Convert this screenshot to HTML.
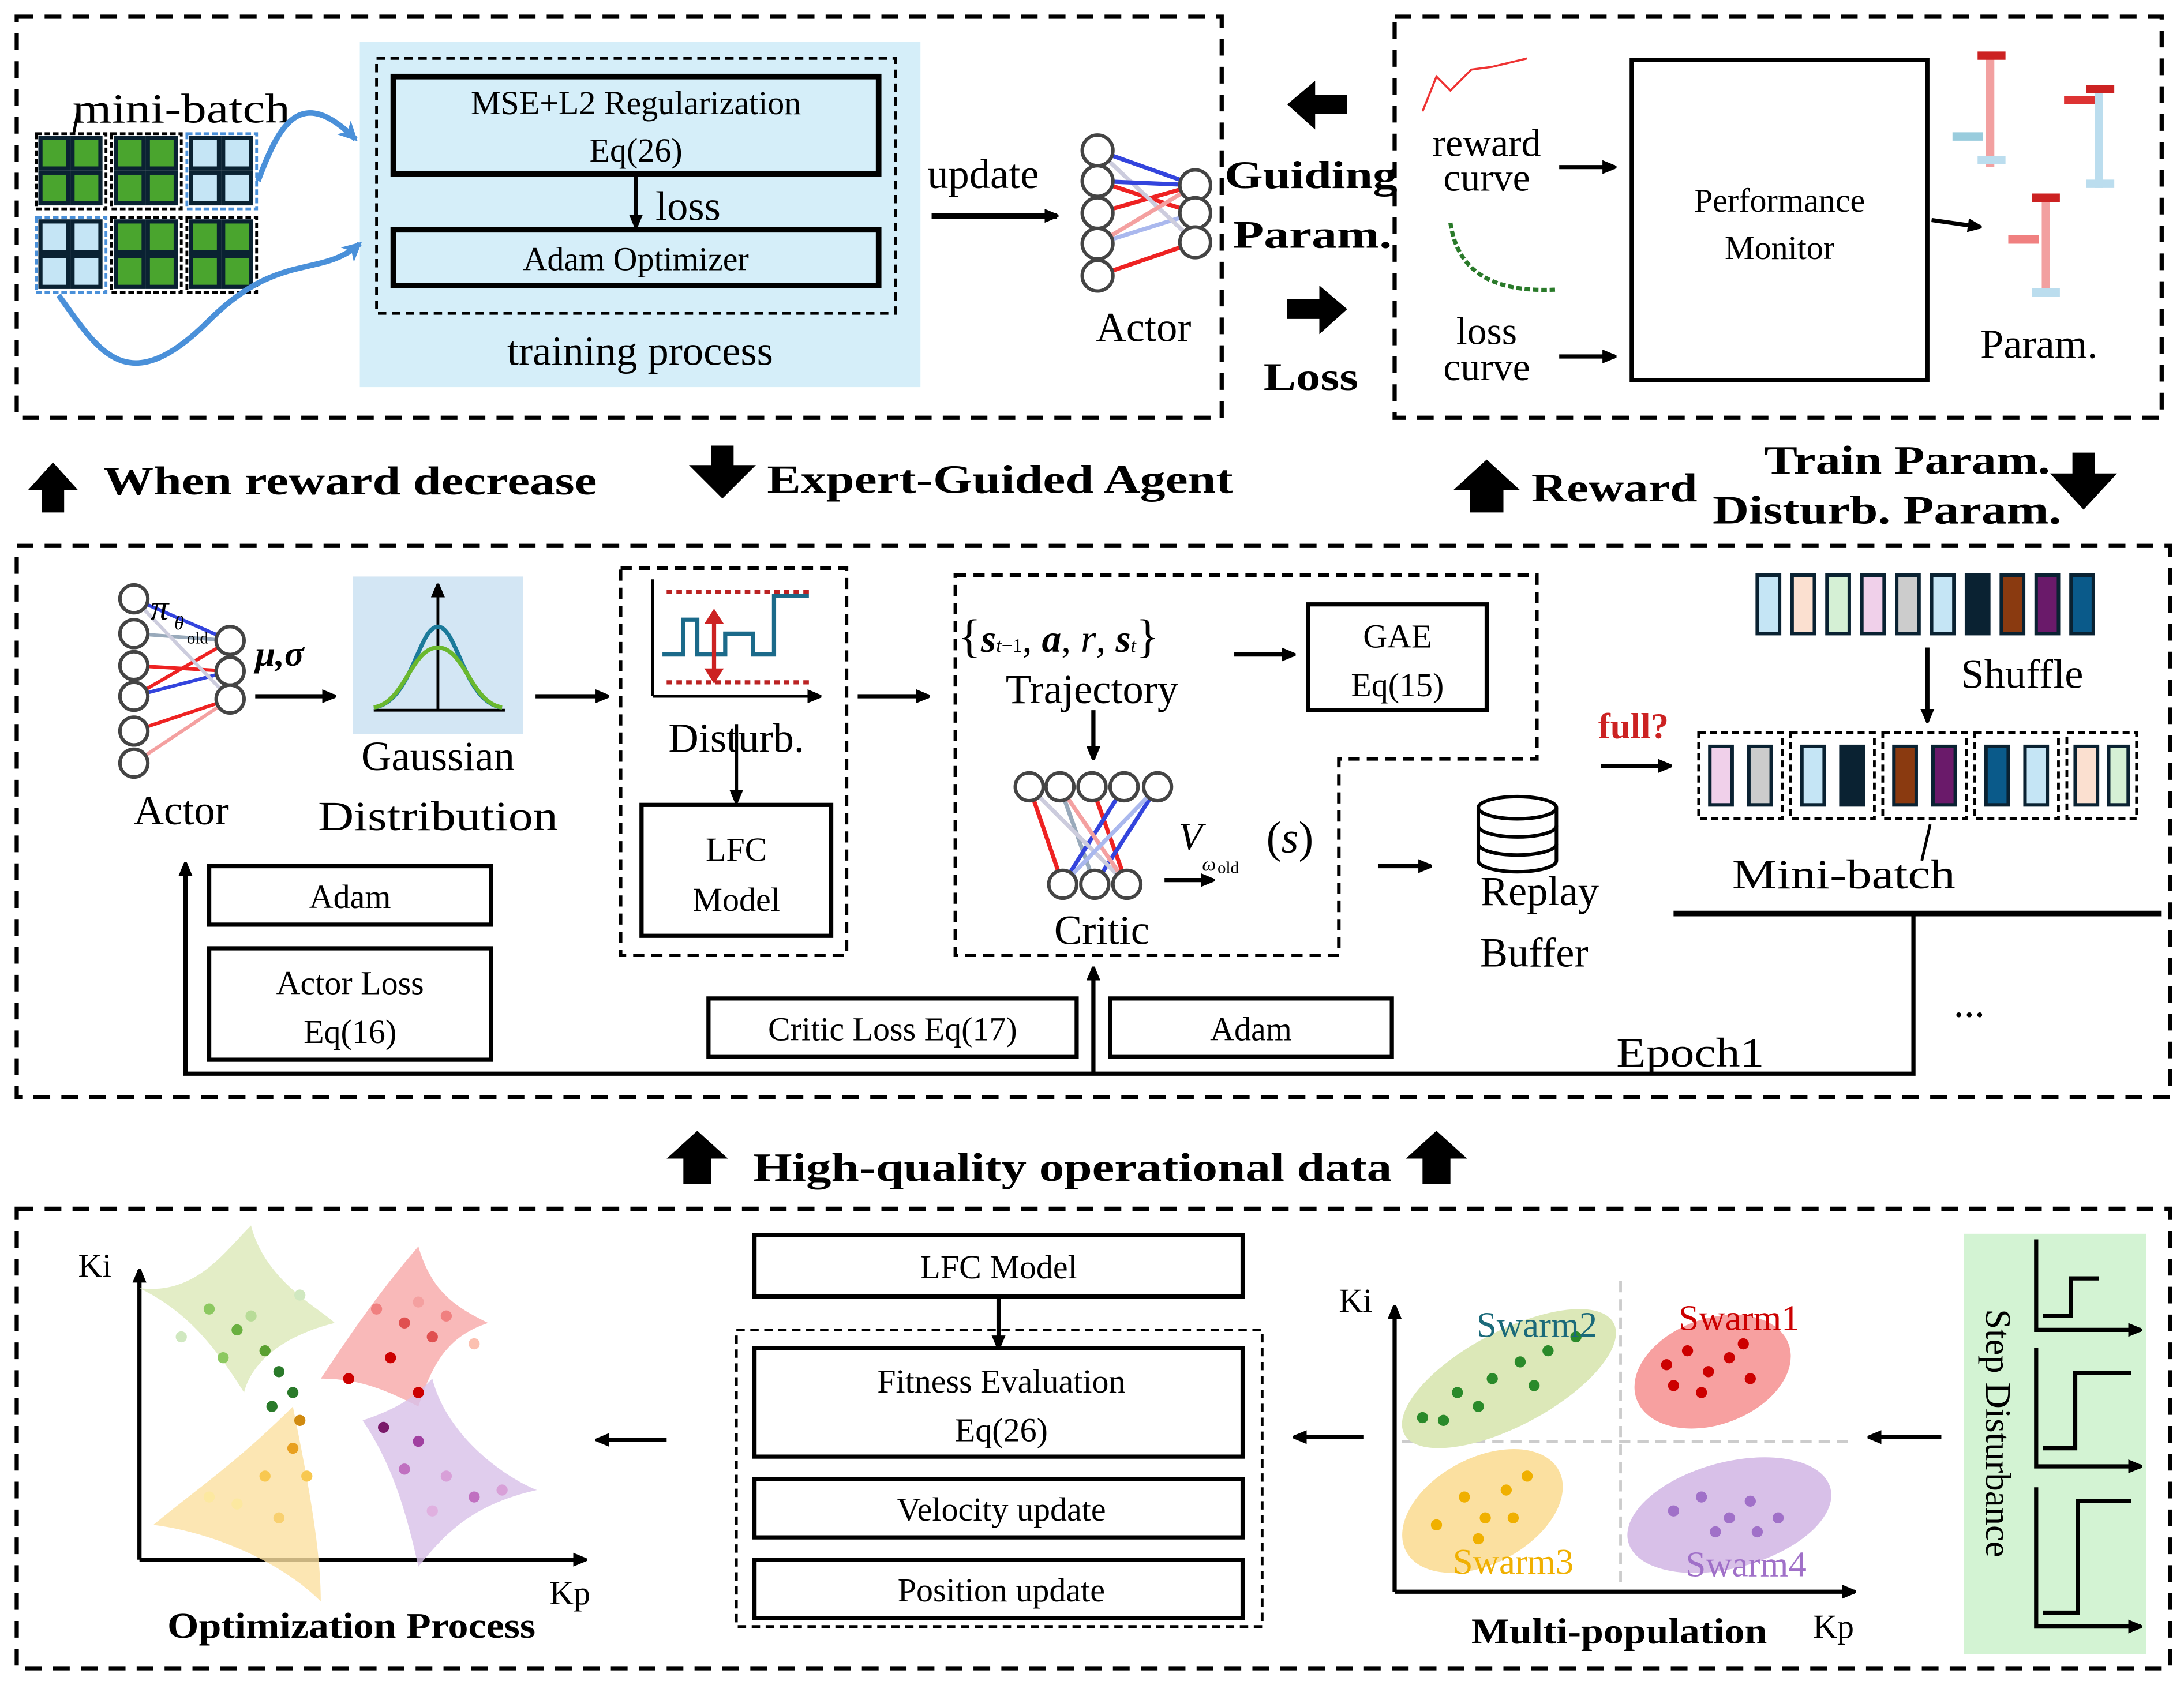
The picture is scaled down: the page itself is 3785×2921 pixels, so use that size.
<!DOCTYPE html>
<html><head><meta charset="utf-8"><style>
html,body{margin:0;padding:0;background:#fff}
svg{display:block}
text{font-family:"Liberation Serif",serif;fill:#000}
.b{font-weight:bold}
</style></head><body>
<svg width="3785" height="2921" viewBox="0 0 1566 1210" preserveAspectRatio="none" xmlns="http://www.w3.org/2000/svg">
<defs>
<marker id="ah" markerWidth="10" markerHeight="10" refX="9" refY="5" orient="auto" markerUnits="userSpaceOnUse"><path d="M0,0 L12,5 L0,10 z" fill="#000"/></marker>
<marker id="ahb" markerWidth="14" markerHeight="14" refX="12" refY="7" orient="auto" markerUnits="userSpaceOnUse"><path d="M0,0 L14,7 L0,14 L4,7 z" fill="#4a90d9"/></marker>
</defs>
<g fill="none" stroke="#000" stroke-width="3" stroke-dasharray="12,8">
<rect x="12" y="12" width="864" height="288"/>
<rect x="1000" y="12" width="550" height="288"/>
<rect x="12" y="392" width="1544" height="396"/>
<rect x="12" y="868" width="1544" height="330"/>
</g>
<rect x="258" y="30" width="402" height="248" fill="#d5eef9"/>
<rect x="270" y="42" width="372" height="183" fill="none" stroke="#000" stroke-width="2" stroke-dasharray="6,4"/>
<rect x="282" y="55" width="348" height="70" fill="none" stroke="#000" stroke-width="4"/>
<text x="456" y="82" font-size="24" text-anchor="middle">MSE+L2 Regularization</text>
<text x="456" y="116" font-size="24" text-anchor="middle">Eq(26)</text>
<line x1="456" y1="125" x2="456" y2="163" stroke="#000" stroke-width="3" marker-end="url(#ah)"/>
<text x="470" y="158" font-size="30">loss</text>
<rect x="282" y="165" width="348" height="40" fill="none" stroke="#000" stroke-width="4"/>
<text x="456" y="194" font-size="24" text-anchor="middle">Adam Optimizer</text>
<text x="459" y="262" font-size="30" text-anchor="middle">training process</text>
<text x="52" y="88" font-size="30" textLength="156" lengthAdjust="spacingAndGlyphs">mini-batch</text>
<line x1="56" y1="80" x2="50" y2="110" stroke="#000" stroke-width="2"/>
<g stroke-width="2">
<g transform="translate(26,96)"><rect width="50" height="54" fill="#fff" stroke="#000" stroke-dasharray="4,2"/><rect x="3" y="3" width="20" height="22" fill="#4aa52e" stroke="#0a2232" stroke-width="3"/><rect x="26" y="3" width="20" height="22" fill="#4aa52e" stroke="#0a2232" stroke-width="3"/><rect x="3" y="28" width="20" height="22" fill="#4aa52e" stroke="#0a2232" stroke-width="3"/><rect x="26" y="28" width="20" height="22" fill="#4aa52e" stroke="#0a2232" stroke-width="3"/></g>
<g transform="translate(80,96)"><rect width="50" height="54" fill="#fff" stroke="#000" stroke-dasharray="4,2"/><rect x="3" y="3" width="20" height="22" fill="#4aa52e" stroke="#0a2232" stroke-width="3"/><rect x="26" y="3" width="20" height="22" fill="#4aa52e" stroke="#0a2232" stroke-width="3"/><rect x="3" y="28" width="20" height="22" fill="#4aa52e" stroke="#0a2232" stroke-width="3"/><rect x="26" y="28" width="20" height="22" fill="#4aa52e" stroke="#0a2232" stroke-width="3"/></g>
<g transform="translate(134,96)"><rect width="50" height="54" fill="#fff" stroke="#4a90d9" stroke-dasharray="4,2"/><rect x="3" y="3" width="20" height="22" fill="#c5e5f5" stroke="#0a2232" stroke-width="3"/><rect x="26" y="3" width="20" height="22" fill="#c5e5f5" stroke="#0a2232" stroke-width="3"/><rect x="3" y="28" width="20" height="22" fill="#c5e5f5" stroke="#0a2232" stroke-width="3"/><rect x="26" y="28" width="20" height="22" fill="#c5e5f5" stroke="#0a2232" stroke-width="3"/></g>
<g transform="translate(26,156)"><rect width="50" height="54" fill="#fff" stroke="#4a90d9" stroke-dasharray="4,2"/><rect x="3" y="3" width="20" height="22" fill="#c5e5f5" stroke="#0a2232" stroke-width="3"/><rect x="26" y="3" width="20" height="22" fill="#c5e5f5" stroke="#0a2232" stroke-width="3"/><rect x="3" y="28" width="20" height="22" fill="#c5e5f5" stroke="#0a2232" stroke-width="3"/><rect x="26" y="28" width="20" height="22" fill="#c5e5f5" stroke="#0a2232" stroke-width="3"/></g>
<g transform="translate(80,156)"><rect width="50" height="54" fill="#fff" stroke="#000" stroke-dasharray="4,2"/><rect x="3" y="3" width="20" height="22" fill="#4aa52e" stroke="#0a2232" stroke-width="3"/><rect x="26" y="3" width="20" height="22" fill="#4aa52e" stroke="#0a2232" stroke-width="3"/><rect x="3" y="28" width="20" height="22" fill="#4aa52e" stroke="#0a2232" stroke-width="3"/><rect x="26" y="28" width="20" height="22" fill="#4aa52e" stroke="#0a2232" stroke-width="3"/></g>
<g transform="translate(134,156)"><rect width="50" height="54" fill="#fff" stroke="#000" stroke-dasharray="4,2"/><rect x="3" y="3" width="20" height="22" fill="#4aa52e" stroke="#0a2232" stroke-width="3"/><rect x="26" y="3" width="20" height="22" fill="#4aa52e" stroke="#0a2232" stroke-width="3"/><rect x="3" y="28" width="20" height="22" fill="#4aa52e" stroke="#0a2232" stroke-width="3"/><rect x="26" y="28" width="20" height="22" fill="#4aa52e" stroke="#0a2232" stroke-width="3"/></g>
</g>
<path d="M185,130 C200,90 215,60 255,100" fill="none" stroke="#4a90d9" stroke-width="4" marker-end="url(#ahb)"/>
<path d="M42,212 C70,250 90,290 150,230 C200,180 230,200 258,175" fill="none" stroke="#4a90d9" stroke-width="4" marker-end="url(#ahb)"/>
<text x="665" y="135" font-size="30">update</text>
<line x1="668" y1="155" x2="758" y2="155" stroke="#000" stroke-width="4" marker-end="url(#ah)"/>
<g stroke-width="3">
<line x1="787" y1="108" x2="857" y2="133" stroke="#3344dd"/><line x1="787" y1="130" x2="857" y2="153" stroke="#e22"/><line x1="787" y1="153" x2="857" y2="133" stroke="#e22"/><line x1="787" y1="175" x2="857" y2="153" stroke="#aab8ee"/><line x1="787" y1="198" x2="857" y2="174" stroke="#e22"/><line x1="787" y1="108" x2="857" y2="174" stroke="#ccd"/><line x1="787" y1="130" x2="857" y2="133" stroke="#3344dd"/><line x1="787" y1="175" x2="857" y2="133" stroke="#f4a0a0"/>
</g>
<g fill="#fff" stroke="#444" stroke-width="2.5">
<circle cx="787" cy="108" r="11"/><circle cx="787" cy="130" r="11"/><circle cx="787" cy="153" r="11"/><circle cx="787" cy="175" r="11"/><circle cx="787" cy="198" r="11"/>
<circle cx="857" cy="133" r="11"/><circle cx="857" cy="153" r="11"/><circle cx="857" cy="174" r="11"/>
</g>
<text x="820" y="245" font-size="30" text-anchor="middle">Actor</text>
<text x="878" y="135" font-size="28" class="b" textLength="124" lengthAdjust="spacingAndGlyphs">Guiding</text>
<text x="884" y="178" font-size="28" class="b" textLength="114" lengthAdjust="spacingAndGlyphs">Param.</text>
<text x="906" y="280" font-size="28" class="b" textLength="68" lengthAdjust="spacingAndGlyphs">Loss</text>
<path d="M923,75 L943,58 L943,68 L966,68 L966,82 L943,82 L943,93 Z" fill="#000"/>
<path d="M966,222 L946,205 L946,215 L923,215 L923,229 L946,229 L946,240 Z" fill="#000"/>
<path d="M1020,80 L1030,55 L1040,65 L1055,50 L1070,48 L1095,42" fill="none" stroke="#e33" stroke-width="1.5"/>
<text x="1066" y="112" font-size="28" text-anchor="middle">reward</text>
<text x="1066" y="137" font-size="28" text-anchor="middle">curve</text>
<path d="M1040,160 C1045,195 1070,210 1115,208" fill="none" stroke="#2a7a2a" stroke-width="3" stroke-dasharray="4,2"/>
<text x="1066" y="247" font-size="28" text-anchor="middle">loss</text>
<text x="1066" y="273" font-size="28" text-anchor="middle">curve</text>
<line x1="1118" y1="120" x2="1158" y2="120" stroke="#000" stroke-width="3" marker-end="url(#ah)"/>
<line x1="1118" y1="256" x2="1158" y2="256" stroke="#000" stroke-width="3" marker-end="url(#ah)"/>
<rect x="1170" y="43" width="212" height="230" fill="none" stroke="#000" stroke-width="3"/>
<text x="1276" y="152" font-size="24" text-anchor="middle">Performance</text>
<text x="1276" y="186" font-size="24" text-anchor="middle">Monitor</text>
<line x1="1385" y1="158" x2="1420" y2="163" stroke="#000" stroke-width="3" marker-end="url(#ah)"/>
<g stroke-width="6">
<line x1="1427" y1="38" x2="1427" y2="120" stroke="#f2a0a0"/><line x1="1418" y1="40" x2="1438" y2="40" stroke="#c22"/><line x1="1418" y1="115" x2="1438" y2="115" stroke="#bde"/><line x1="1400" y1="98" x2="1422" y2="98" stroke="#9cd"/>
<line x1="1505" y1="62" x2="1505" y2="135" stroke="#bde"/><line x1="1496" y1="64" x2="1516" y2="64" stroke="#c22"/><line x1="1496" y1="132" x2="1516" y2="132" stroke="#bde"/><line x1="1480" y1="72" x2="1502" y2="72" stroke="#d33"/>
<line x1="1467" y1="140" x2="1467" y2="212" stroke="#f2a0a0"/><line x1="1457" y1="142" x2="1477" y2="142" stroke="#c22"/><line x1="1457" y1="210" x2="1477" y2="210" stroke="#bde"/><line x1="1440" y1="172" x2="1462" y2="172" stroke="#f08080"/>
</g>
<text x="1462" y="257" font-size="30" text-anchor="middle">Param.</text>
<path d="M20,352 L38,332 L56,352 L46,352 L46,368 L30,368 L30,352 Z" fill="#000"/>
<text x="74" y="355" font-size="29" class="b" textLength="354" lengthAdjust="spacingAndGlyphs">When reward decrease</text>
<path d="M494,334 L510,334 L510,320 L526,320 L526,334 L542,334 L518,358 Z" fill="#000"/>
<text x="550" y="354" font-size="29" class="b" textLength="334" lengthAdjust="spacingAndGlyphs">Expert-Guided Agent</text>
<path d="M1042,352 L1066,330 L1090,352 L1078,352 L1078,368 L1054,368 L1054,352 Z" fill="#000"/>
<text x="1098" y="360" font-size="29" class="b" textLength="119" lengthAdjust="spacingAndGlyphs">Reward</text>
<text x="1265" y="340" font-size="29" class="b" textLength="205" lengthAdjust="spacingAndGlyphs">Train Param.</text>
<text x="1228" y="376" font-size="29" class="b" textLength="250" lengthAdjust="spacingAndGlyphs">Disturb. Param.</text>
<path d="M1470,340 L1486,340 L1486,325 L1502,325 L1502,340 L1518,340 L1494,366 Z" fill="#000"/>
<g stroke-width="2.5">
<line x1="96" y1="430" x2="165" y2="460" stroke="#3344dd"/><line x1="96" y1="455" x2="165" y2="460" stroke="#9ab"/><line x1="96" y1="478" x2="165" y2="482" stroke="#e22"/><line x1="96" y1="500" x2="165" y2="460" stroke="#e22"/><line x1="96" y1="525" x2="165" y2="502" stroke="#e22"/><line x1="96" y1="548" x2="165" y2="502" stroke="#f4a0a0"/><line x1="96" y1="500" x2="165" y2="482" stroke="#3344dd"/><line x1="96" y1="430" x2="165" y2="502" stroke="#ccd"/>
</g>
<g fill="#fff" stroke="#444" stroke-width="2.5">
<circle cx="96" cy="430" r="10"/><circle cx="96" cy="455" r="10"/><circle cx="96" cy="478" r="10"/><circle cx="96" cy="500" r="10"/><circle cx="96" cy="525" r="10"/><circle cx="96" cy="548" r="10"/>
<circle cx="165" cy="460" r="10"/><circle cx="165" cy="482" r="10"/><circle cx="165" cy="502" r="10"/>
</g>
<text x="108" y="445" font-size="26" font-style="italic">π</text><text x="125" y="452" font-size="14" font-style="italic">θ</text><text x="134" y="462" font-size="12">old</text>
<text x="183" y="478" font-size="26" class="b" font-style="italic">μ,σ</text>
<line x1="183" y1="500" x2="240" y2="500" stroke="#000" stroke-width="3" marker-end="url(#ah)"/>
<text x="130" y="592" font-size="30" text-anchor="middle">Actor</text>
<rect x="253" y="414" width="122" height="113" fill="#d3e6f4"/>
<line x1="268" y1="510" x2="362" y2="510" stroke="#000" stroke-width="2"/>
<line x1="314" y1="510" x2="314" y2="420" stroke="#000" stroke-width="2" marker-end="url(#ah)"/>
<path d="M268,508 C295,505 300,450 314,450 C328,450 333,505 360,508" fill="none" stroke="#1b7a9a" stroke-width="3"/>
<path d="M268,508 C290,505 295,465 314,465 C333,465 338,505 360,508" fill="none" stroke="#6ab82e" stroke-width="3"/>
<text x="314" y="553" font-size="30" text-anchor="middle">Gaussian</text>
<text x="314" y="596" font-size="30" text-anchor="middle" textLength="172" lengthAdjust="spacingAndGlyphs">Distribution</text>
<line x1="384" y1="500" x2="436" y2="500" stroke="#000" stroke-width="3" marker-end="url(#ah)"/>
<rect x="445" y="408" width="162" height="278" fill="none" stroke="#000" stroke-width="2.5" stroke-dasharray="8,5"/>
<line x1="468" y1="416" x2="468" y2="500" stroke="#000" stroke-width="2"/>
<line x1="468" y1="500" x2="588" y2="500" stroke="#000" stroke-width="2" marker-end="url(#ah)"/>
<line x1="478" y1="425" x2="580" y2="425" stroke="#b22" stroke-width="3" stroke-dasharray="4,3"/>
<line x1="478" y1="490" x2="580" y2="490" stroke="#b22" stroke-width="3" stroke-dasharray="4,3"/>
<path d="M475,470 L490,470 L490,445 L500,445 L500,470 L520,470 L520,455 L540,455 L540,470 L555,470 L555,428 L580,428" fill="none" stroke="#1b6a8a" stroke-width="3"/>
<line x1="512" y1="440" x2="512" y2="488" stroke="#c22" stroke-width="3"/>
<path d="M505,448 L512,437 L519,448 Z M505,480 L512,491 L519,480 Z" fill="#c22"/>
<text x="528" y="540" font-size="30" text-anchor="middle">Disturb.</text>
<line x1="528" y1="520" x2="528" y2="576" stroke="#000" stroke-width="2.5" marker-end="url(#ah)"/>
<rect x="460" y="578" width="136" height="94" fill="none" stroke="#000" stroke-width="3"/>
<text x="528" y="618" font-size="24" text-anchor="middle">LFC</text>
<text x="528" y="654" font-size="24" text-anchor="middle">Model</text>
<line x1="615" y1="500" x2="666" y2="500" stroke="#000" stroke-width="3" marker-end="url(#ah)"/>
<path d="M685,413 L1102,413 L1102,545 L960,545 L960,686 L685,686 Z" fill="none" stroke="#000" stroke-width="2.5" stroke-dasharray="8,5"/>
<text x="687" y="468" font-size="28"><tspan font-size="34">{</tspan><tspan font-weight="bold" font-style="italic">s</tspan><tspan font-size="14" font-style="italic">t</tspan><tspan font-size="14">−1</tspan>, <tspan font-weight="bold" font-style="italic">a</tspan>, <tspan font-style="italic">r</tspan>, <tspan font-weight="bold" font-style="italic">s</tspan><tspan font-size="14" font-style="italic">t</tspan><tspan font-size="34">}</tspan></text>
<text x="783" y="505" font-size="30" text-anchor="middle">Trajectory</text>
<line x1="885" y1="470" x2="928" y2="470" stroke="#000" stroke-width="3" marker-end="url(#ah)"/>
<rect x="938" y="434" width="128" height="76" fill="none" stroke="#000" stroke-width="3"/>
<text x="1002" y="465" font-size="24" text-anchor="middle">GAE</text>
<text x="1002" y="500" font-size="24" text-anchor="middle">Eq(15)</text>
<line x1="784" y1="510" x2="784" y2="545" stroke="#000" stroke-width="3" marker-end="url(#ah)"/>
<g stroke-width="3">
<line x1="738" y1="565" x2="762" y2="635" stroke="#e22"/><line x1="760" y1="565" x2="785" y2="635" stroke="#9ab"/><line x1="783" y1="565" x2="808" y2="635" stroke="#e22"/><line x1="806" y1="565" x2="762" y2="635" stroke="#3344dd"/><line x1="830" y1="565" x2="785" y2="635" stroke="#3344dd"/><line x1="738" y1="565" x2="808" y2="635" stroke="#ccd"/><line x1="760" y1="565" x2="808" y2="635" stroke="#f4a0a0"/><line x1="830" y1="565" x2="762" y2="635" stroke="#aab8ee"/>
</g>
<g fill="#fff" stroke="#444" stroke-width="2.5">
<circle cx="738" cy="565" r="10"/><circle cx="760" cy="565" r="10"/><circle cx="783" cy="565" r="10"/><circle cx="806" cy="565" r="10"/><circle cx="830" cy="565" r="10"/>
<circle cx="762" cy="635" r="10"/><circle cx="785" cy="635" r="10"/><circle cx="808" cy="635" r="10"/>
</g>
<text x="790" y="678" font-size="30" text-anchor="middle">Critic</text>
<text x="845" y="610" font-size="28" font-style="italic">V</text><text x="862" y="625" font-size="14" font-style="italic">ω</text><text x="873" y="627" font-size="12">old</text>
<text x="908" y="612" font-size="32">(<tspan font-style="italic">s</tspan>)</text>
<line x1="835" y1="632" x2="870" y2="632" stroke="#000" stroke-width="3" marker-end="url(#ah)"/>
<line x1="988" y1="622" x2="1026" y2="622" stroke="#000" stroke-width="3" marker-end="url(#ah)"/>
<g fill="#fff" stroke="#000" stroke-width="2.5">
<path d="M1060,580 L1060,618 A28,8 0 0 0 1116,618 L1116,580"/>
<ellipse cx="1088" cy="580" rx="28" ry="8"/>
<path d="M1060,593 A28,8 0 0 0 1116,593 M1060,606 A28,8 0 0 0 1116,606" fill="none"/>
</g>
<text x="1104" y="650" font-size="30" text-anchor="middle">Replay</text>
<text x="1100" y="694" font-size="30" text-anchor="middle">Buffer</text>
<text x="1146" y="530" font-size="26" class="b" style="fill:#c22">full?</text>
<line x1="1148" y1="550" x2="1198" y2="550" stroke="#000" stroke-width="3" marker-end="url(#ah)"/>
<g stroke="#0a2232" stroke-width="2.5">
<rect x="1260" y="413" width="16" height="42" fill="#c5e5f5"/><rect x="1285" y="413" width="16" height="42" fill="#fbe0d0"/><rect x="1310" y="413" width="16" height="42" fill="#d5f0d5"/><rect x="1335" y="413" width="16" height="42" fill="#f0d0ea"/><rect x="1360" y="413" width="16" height="42" fill="#ccc"/><rect x="1385" y="413" width="16" height="42" fill="#c5e5f5"/><rect x="1410" y="413" width="16" height="42" fill="#0a2232"/><rect x="1435" y="413" width="16" height="42" fill="#8a3a10"/><rect x="1460" y="413" width="16" height="42" fill="#6a1a6a"/><rect x="1485" y="413" width="16" height="42" fill="#0a5a8a"/>
</g>
<line x1="1382" y1="465" x2="1382" y2="518" stroke="#000" stroke-width="3" marker-end="url(#ah)"/>
<text x="1406" y="494" font-size="30">Shuffle</text>
<g fill="none" stroke="#000" stroke-width="2" stroke-dasharray="5,3">
<rect x="1218" y="526" width="60" height="62"/><rect x="1284" y="526" width="60" height="62"/><rect x="1350" y="526" width="60" height="62"/><rect x="1416" y="526" width="60" height="62"/><rect x="1482" y="526" width="50" height="62"/>
</g>
<g stroke="#0a2232" stroke-width="2.5">
<rect x="1226" y="536" width="16" height="42" fill="#f0d0ea"/><rect x="1254" y="536" width="16" height="42" fill="#ccc"/>
<rect x="1292" y="536" width="16" height="42" fill="#c5e5f5"/><rect x="1320" y="536" width="16" height="42" fill="#0a2232"/>
<rect x="1358" y="536" width="16" height="42" fill="#8a3a10"/><rect x="1386" y="536" width="16" height="42" fill="#6a1a6a"/>
<rect x="1424" y="536" width="16" height="42" fill="#0a5a8a"/><rect x="1452" y="536" width="16" height="42" fill="#c5e5f5"/>
<rect x="1488" y="536" width="16" height="42" fill="#fbe0d0"/><rect x="1512" y="536" width="14" height="42" fill="#d5f0d5"/>
</g>
<line x1="1384" y1="592" x2="1378" y2="618" stroke="#000" stroke-width="2"/>
<text x="1322" y="638" font-size="30" text-anchor="middle" textLength="160" lengthAdjust="spacingAndGlyphs">Mini-batch</text>
<line x1="1200" y1="656" x2="1550" y2="656" stroke="#000" stroke-width="4"/>
<polyline points="1372,656 1372,771 133,771 133,620" fill="none" stroke="#000" stroke-width="3" marker-end="url(#ah)"/>
<line x1="784" y1="771" x2="784" y2="695" stroke="#000" stroke-width="3" marker-end="url(#ah)"/>
<text x="1412" y="730" font-size="30" text-anchor="middle">...</text>
<text x="1212" y="766" font-size="30" text-anchor="middle" textLength="106" lengthAdjust="spacingAndGlyphs">Epoch1</text>
<g fill="none" stroke="#000" stroke-width="3">
<rect x="150" y="622" width="202" height="42"/><rect x="150" y="681" width="202" height="80"/>
<rect x="508" y="717" width="264" height="42"/><rect x="796" y="717" width="202" height="42"/>
</g>
<text x="251" y="652" font-size="24" text-anchor="middle">Adam</text>
<text x="251" y="714" font-size="24" text-anchor="middle">Actor Loss</text>
<text x="251" y="749" font-size="24" text-anchor="middle">Eq(16)</text>
<text x="640" y="747" font-size="24" text-anchor="middle">Critic Loss Eq(17)</text>
<text x="897" y="747" font-size="24" text-anchor="middle">Adam</text>
<path d="M478,832 L500,812 L522,832 L510,832 L510,850 L490,850 L490,832 Z" fill="#000"/>
<text x="540" y="848" font-size="29" class="b" textLength="458" lengthAdjust="spacingAndGlyphs">High-quality operational data</text>
<path d="M1008,832 L1030,812 L1052,832 L1040,832 L1040,850 L1020,850 L1020,832 Z" fill="#000"/>
<line x1="100" y1="1120" x2="100" y2="912" stroke="#000" stroke-width="3" marker-end="url(#ah)"/>
<line x1="100" y1="1120" x2="420" y2="1120" stroke="#000" stroke-width="3" marker-end="url(#ah)"/>
<text x="56" y="917" font-size="24">Ki</text>
<text x="394" y="1152" font-size="24">Kp</text>
<path d="M100,925 C140,930 160,900 180,880 C190,920 230,940 240,950 C200,960 180,980 175,1000 C150,960 130,940 100,925 Z" fill="#dce8b8" opacity="0.8"/>
<path d="M230,990 C250,960 270,930 300,895 C310,930 330,940 350,950 C320,960 310,980 300,1010 C280,1000 260,990 230,990 Z" fill="#f7a8a8" opacity="0.8"/>
<path d="M110,1095 C140,1070 170,1050 210,1010 C220,1060 230,1110 230,1150 C200,1120 150,1100 110,1095 Z" fill="#fbe0a0" opacity="0.8"/>
<path d="M260,1020 C290,1010 300,1000 310,990 C320,1030 360,1060 385,1070 C340,1080 320,1100 300,1125 C290,1080 280,1050 260,1020 Z" fill="#d8c0e8" opacity="0.8"/>
<g>
<circle cx="150" cy="940" r="4" fill="#8cc860"/><circle cx="170" cy="955" r="4" fill="#6ab040"/><circle cx="190" cy="970" r="4" fill="#5aa030"/><circle cx="200" cy="985" r="4" fill="#2a7a2a"/><circle cx="210" cy="1000" r="4" fill="#2a7a2a"/><circle cx="180" cy="945" r="4" fill="#b8dc98"/><circle cx="130" cy="960" r="4" fill="#d0e8c0"/><circle cx="160" cy="975" r="4" fill="#8cc860"/><circle cx="215" cy="930" r="4" fill="#d0e8c0"/><circle cx="195" cy="1010" r="4" fill="#2a7a2a"/>
<circle cx="270" cy="940" r="4" fill="#f08080"/><circle cx="290" cy="950" r="4" fill="#e05050"/><circle cx="300" cy="935" r="4" fill="#f4a0a0"/><circle cx="310" cy="960" r="4" fill="#e05050"/><circle cx="280" cy="975" r="4" fill="#c00"/><circle cx="250" cy="990" r="4" fill="#c00"/><circle cx="320" cy="945" r="4" fill="#f08080"/><circle cx="340" cy="965" r="4" fill="#fbc0b0"/><circle cx="300" cy="1000" r="4" fill="#c00"/>
<circle cx="210" cy="1040" r="4" fill="#e8a020"/><circle cx="190" cy="1060" r="4" fill="#f8c850"/><circle cx="170" cy="1080" r="4" fill="#fce8a0"/><circle cx="215" cy="1020" r="4" fill="#d08a10"/><circle cx="150" cy="1075" r="4" fill="#fce8a0"/><circle cx="200" cy="1090" r="4" fill="#f8d070"/><circle cx="220" cy="1060" r="4" fill="#f8c850"/>
<circle cx="275" cy="1025" r="4" fill="#7a1a6a"/><circle cx="300" cy="1035" r="4" fill="#a040a0"/><circle cx="290" cy="1055" r="4" fill="#c070c0"/><circle cx="320" cy="1060" r="4" fill="#d8a0d8"/><circle cx="340" cy="1075" r="4" fill="#c070c0"/><circle cx="310" cy="1085" r="4" fill="#e0b0e0"/><circle cx="360" cy="1070" r="4" fill="#d8a0d8"/>
</g>
<text x="120" y="1176" font-size="26" class="b" textLength="264" lengthAdjust="spacingAndGlyphs">Optimization Process</text>
<line x1="478" y1="1034" x2="428" y2="1034" stroke="#000" stroke-width="3" marker-end="url(#ah)"/>
<rect x="541" y="887" width="350" height="44" fill="none" stroke="#000" stroke-width="3"/>
<text x="716" y="918" font-size="24" text-anchor="middle">LFC Model</text>
<rect x="528" y="955" width="377" height="213" fill="none" stroke="#000" stroke-width="2" stroke-dasharray="6,4"/>
<line x1="716" y1="931" x2="716" y2="968" stroke="#000" stroke-width="3" marker-end="url(#ah)"/>
<rect x="541" y="968" width="350" height="78" fill="none" stroke="#000" stroke-width="3"/>
<text x="718" y="1000" font-size="24" text-anchor="middle">Fitness Evaluation</text>
<text x="718" y="1035" font-size="24" text-anchor="middle">Eq(26)</text>
<rect x="541" y="1062" width="350" height="42" fill="none" stroke="#000" stroke-width="3"/>
<text x="718" y="1092" font-size="24" text-anchor="middle">Velocity update</text>
<rect x="541" y="1120" width="350" height="42" fill="none" stroke="#000" stroke-width="3"/>
<text x="718" y="1150" font-size="24" text-anchor="middle">Position update</text>
<line x1="978" y1="1032" x2="928" y2="1032" stroke="#000" stroke-width="3" marker-end="url(#ah)"/>
<line x1="1000" y1="1143" x2="1000" y2="938" stroke="#000" stroke-width="3" marker-end="url(#ah)"/>
<line x1="1000" y1="1143" x2="1330" y2="1143" stroke="#000" stroke-width="3" marker-end="url(#ah)"/>
<text x="960" y="942" font-size="24">Ki</text>
<text x="1300" y="1176" font-size="24">Kp</text>
<line x1="1162" y1="920" x2="1162" y2="1140" stroke="#ccc" stroke-width="2" stroke-dasharray="8,5"/>
<line x1="1005" y1="1035" x2="1330" y2="1035" stroke="#ccc" stroke-width="2" stroke-dasharray="8,5"/>
<ellipse cx="1082" cy="990" rx="85" ry="34" transform="rotate(-28 1082 990)" fill="#dce8b8"/>
<ellipse cx="1228" cy="985" rx="58" ry="38" transform="rotate(-20 1228 985)" fill="#f7a0a0"/>
<ellipse cx="1063" cy="1085" rx="62" ry="38" transform="rotate(-28 1063 1085)" fill="#fbe0a0"/>
<ellipse cx="1240" cy="1088" rx="75" ry="38" transform="rotate(-15 1240 1088)" fill="#d8c0e8"/>
<g fill="#2a8a2a"><circle cx="1020" cy="1018" r="4"/><circle cx="1045" cy="1000" r="4"/><circle cx="1070" cy="990" r="4"/><circle cx="1090" cy="978" r="4"/><circle cx="1110" cy="970" r="4"/><circle cx="1130" cy="960" r="4"/><circle cx="1060" cy="1010" r="4"/><circle cx="1100" cy="995" r="4"/><circle cx="1035" cy="1020" r="4"/></g>
<g fill="#c00"><circle cx="1195" cy="980" r="4"/><circle cx="1210" cy="970" r="4"/><circle cx="1225" cy="985" r="4"/><circle cx="1240" cy="975" r="4"/><circle cx="1255" cy="990" r="4"/><circle cx="1220" cy="1000" r="4"/><circle cx="1200" cy="995" r="4"/><circle cx="1250" cy="965" r="4"/></g>
<g fill="#f0b000"><circle cx="1030" cy="1095" r="4"/><circle cx="1050" cy="1075" r="4"/><circle cx="1065" cy="1090" r="4"/><circle cx="1080" cy="1070" r="4"/><circle cx="1095" cy="1060" r="4"/><circle cx="1060" cy="1105" r="4"/><circle cx="1085" cy="1090" r="4"/></g>
<g fill="#a070c8"><circle cx="1200" cy="1085" r="4"/><circle cx="1220" cy="1075" r="4"/><circle cx="1240" cy="1090" r="4"/><circle cx="1255" cy="1078" r="4"/><circle cx="1275" cy="1090" r="4"/><circle cx="1230" cy="1100" r="4"/><circle cx="1260" cy="1100" r="4"/></g>
<text x="1102" y="960" font-size="26" text-anchor="middle" style="fill:#1b6a7a">Swarm2</text>
<text x="1247" y="955" font-size="26" text-anchor="middle" style="fill:#c00">Swarm1</text>
<text x="1085" y="1130" font-size="26" text-anchor="middle" style="fill:#f0b000">Swarm3</text>
<text x="1252" y="1132" font-size="26" text-anchor="middle" style="fill:#a070c8">Swarm4</text>
<text x="1055" y="1180" font-size="26" class="b" textLength="212" lengthAdjust="spacingAndGlyphs">Multi-population</text>
<line x1="1392" y1="1032" x2="1340" y2="1032" stroke="#000" stroke-width="3" marker-end="url(#ah)"/>
<rect x="1408" y="886" width="131" height="302" fill="#d3f3d3"/>
<text transform="translate(1424,940) rotate(90)" font-size="26">Step Disturbance</text>
<g fill="none" stroke="#000" stroke-width="3">
<polyline points="1460,890 1460,955 1535,955" marker-end="url(#ah)"/><polyline points="1465,945 1485,945 1485,918 1505,918"/>
<polyline points="1460,968 1460,1053 1535,1053" marker-end="url(#ah)"/><polyline points="1465,1040 1488,1040 1488,986 1528,986"/>
<polyline points="1460,1068 1460,1168 1535,1168" marker-end="url(#ah)"/><polyline points="1465,1158 1490,1158 1490,1078 1528,1078"/>
</g>
</svg>
</body></html>
